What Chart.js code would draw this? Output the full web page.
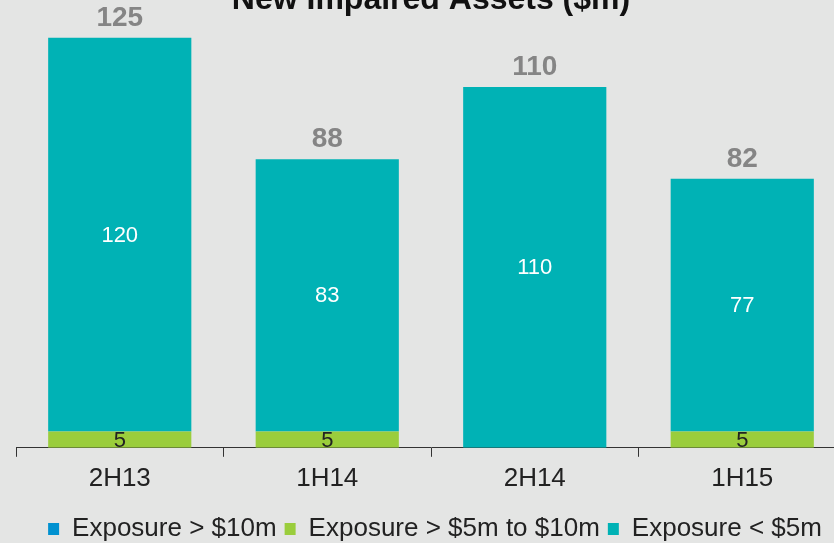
<!DOCTYPE html>
<html>
<head>
<meta charset="utf-8">
<script src="https://cdn.jsdelivr.net/npm/chart.js@4/dist/chart.umd.min.js"></script>
<style>
  html, body { margin: 0; padding: 0; background: #e4e5e4; overflow: hidden; }
  #wrap { position: relative; width: 834px; height: 543px; overflow: hidden; }
  #box { position: absolute; left: 0; top: -20px; width: 870px; height: 572px; }
</style>
</head>
<body>
<div id="wrap"><div id="box"><canvas id="chart"></canvas></div></div>
<script>
// periods on the x axis
const periods = ["2H13", "1H14", "2H14", "1H15"];
// new impaired assets by exposure size ($m)
const over10m = [0, 0, 0, 0];
const from5to10m = [5, 5, 0, 5];
const under5m = [120, 83, 110, 77];
const totals = [125, 88, 110, 82];

const color = {
  over10m: "#0091d0",
  from5to10m: "#9acd3c",
  under5m: "#00b2b5"
};

const font = "'Liberation Sans', Arial, sans-serif";

// draws the segment values inside the bars and the totals above them
const valueLabels = {
  id: "valueLabels",
  afterLayout(chart) {
    // legend sits a little right of the plot centre in the original
    chart.legend.left += 4;
    chart.legend.right += 4;
  },
  afterDatasetsDraw(chart) {
    const ctx = chart.ctx;
    ctx.save();
    ctx.textAlign = "center";
    ctx.textBaseline = "middle";
    chart.data.datasets.forEach((ds, i) => {
      const meta = chart.getDatasetMeta(i);
      meta.data.forEach((bar, j) => {
        const v = ds.data[j];
        if (!v) return;
        ctx.fillStyle = ds.labelColor;
        ctx.font = "22px " + font;
        ctx.fillText(v, bar.x, (bar.y + bar.base) / 2 + 1);
      });
    });
    const y = chart.scales.y;
    const meta = chart.getDatasetMeta(0);
    ctx.fillStyle = "#858585";
    ctx.font = "bold 28px " + font;
    totals.forEach((t, j) => {
      ctx.fillText(t, meta.data[j].x, y.getPixelForValue(t) - 20);
    });
    ctx.restore();
  }
};

new Chart(document.getElementById("chart"), {
  type: "bar",
  data: {
    labels: periods,
    datasets: [
      { label: "Exposure > $10m", data: over10m, backgroundColor: color.over10m, labelColor: "#222" },
      { label: "Exposure > $5m to $10m", data: from5to10m, backgroundColor: color.from5to10m, labelColor: "#222" },
      { label: "Exposure < $5m", data: under5m, backgroundColor: color.under5m, labelColor: "#ffffff" }
    ]
  },
  options: {
    responsive: true,
    maintainAspectRatio: false,
    animation: false,
    layout: { padding: { left: 16, right: 24, top: 0, bottom: 0 } },
    datasets: { bar: { barPercentage: 0.69, categoryPercentage: 1 } },
    plugins: {
      title: {
        display: true,
        text: "New Impaired Assets ($m)",
        color: "#111",
        font: { family: font, size: 32, weight: "bold" },
        padding: { top: 1, bottom: 2 }
      },
      legend: {
        position: "bottom",
        labels: {
          color: "#222",
          font: { family: font, size: 26 },
          boxWidth: 11,
          boxHeight: 12,
          padding: 8
        }
      },
      tooltip: { enabled: false }
    },
    scales: {
      x: {
        stacked: true,
        grid: { display: true, drawOnChartArea: false, offset: true, tickLength: 9, color: "#333" },
        border: { color: "#333" },
        ticks: { color: "#222", font: { family: font, size: 26 }, padding: 6 },
        afterFit: (scale) => { scale.height += 8; }
      },
      y: {
        stacked: true,
        display: false,
        min: 0,
        max: 130
      }
    }
  },
  plugins: [valueLabels]
});
</script>
</body>
</html>
